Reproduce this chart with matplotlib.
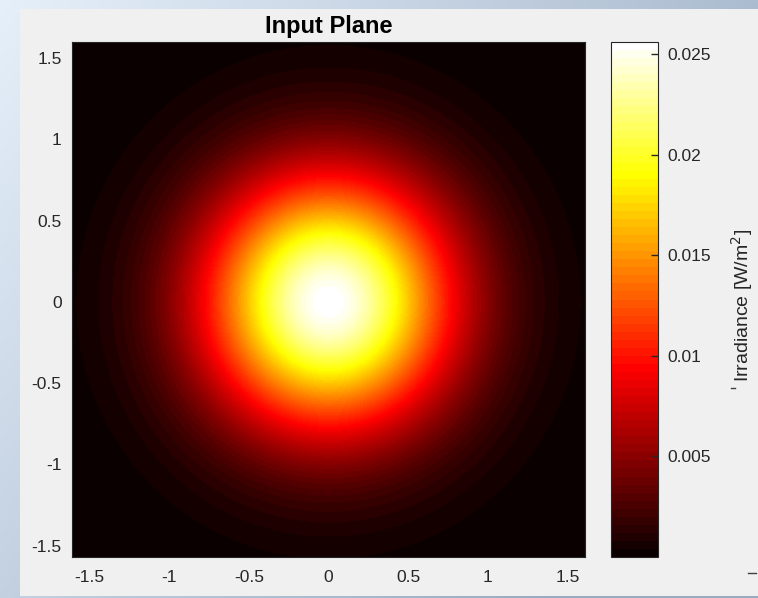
import numpy as np
import matplotlib
matplotlib.use("Agg")
import matplotlib.pyplot as plt
from matplotlib.patches import Rectangle
from matplotlib.lines import Line2D

# ---- data ----
title = "Input Plane"
cbar_label = "Irradiance [W/m$^2$]"
peak_irradiance = 0.0256      # W/m^2 at beam centre
beam_waist = 1.1              # 1/e^2 radius
x_limits = [-1.61, 1.61]
y_limits = [-1.57, 1.60]
x_ticks = [-1.5, -1, -0.5, 0, 0.5, 1, 1.5]
x_tick_labels = ["-1.5", "-1", "-0.5", "0", "0.5", "1", "1.5"]
y_ticks = [-1.5, -1, -0.5, 0, 0.5, 1, 1.5]
y_tick_labels = ["-1.5", "-1", "-0.5", "0", "0.5", "1", "1.5"]
c_ticks = [0.005, 0.01, 0.015, 0.02, 0.025]
c_tick_labels = ["0.005", "0.01", "0.015", "0.02", "0.025"]
c_limits = [0.0, 0.0256]
n_grid = 400

xs = np.linspace(x_limits[0], x_limits[1], n_grid)
ys = np.linspace(y_limits[0], y_limits[1], n_grid)
X, Y = np.meshgrid(xs, ys)
irradiance = peak_irradiance * np.exp(-2 * (X**2 + Y**2) / beam_waist**2)

plt.rcParams['font.family'] = ['Liberation Sans', 'DejaVu Sans']
W, H = 758, 598
fig = plt.figure(figsize=(W / 100, H / 100), dpi=100)

# background (screenshot surroundings)
bg = fig.add_axes([0, 0, 1, 1], zorder=-10)
bg.set_axis_off()
gx = np.linspace(0, 1, 200)
gy = np.linspace(0, 1, 200)
GX, GY = np.meshgrid(gx, gy)
c1 = np.array([0.90, 0.94, 0.98])
c2 = np.array([0.60, 0.67, 0.76])
t = np.clip(0.75 * GX + 0.45 * GY, 0, 1)[..., None]
bgimg = c1 * (1 - t) + c2 * t
bg.imshow(bgimg, extent=[0, 1, 0, 1], aspect='auto', origin='upper')
bg.set_xlim(0, 1)
bg.set_ylim(0, 1)
bg.add_patch(Rectangle((20 / W, 2 / H), 1, (H - 9 - 2) / H,
                       transform=bg.transAxes, facecolor='#f0f0f0',
                       edgecolor='none'))

ax = fig.add_axes([72 / W, (H - 557) / H, 513 / W, 515 / H])
cmap = plt.get_cmap('hot', 64)
im = ax.imshow(irradiance, extent=[x_limits[0], x_limits[1], y_limits[0], y_limits[1]],
               origin='lower', cmap=cmap, vmin=c_limits[0], vmax=c_limits[1],
               aspect='auto', interpolation='bilinear')
ax.set_xlim(x_limits)
ax.set_ylim(y_limits)
ax.set_xticks(x_ticks)
ax.set_xticklabels(x_tick_labels)
ax.set_yticks(y_ticks)
ax.set_yticklabels(y_tick_labels)
ax.tick_params(length=0, labelsize=12.5, colors='#262626')
ax.tick_params(axis='x', pad=9)
ax.tick_params(axis='y', pad=7.5)
for s in ax.spines.values():
    s.set_color('#262626')
    s.set_linewidth(0.8)

fig.text(329 / W, 1 - 27 / H, title, ha='center', va='center',
         fontsize=17, fontweight='bold', color='black')

cax = fig.add_axes([611 / W, (H - 557) / H, 47 / W, 515 / H])
cb = fig.colorbar(im, cax=cax)
cb.set_ticks(c_ticks)
cb.set_ticklabels(c_tick_labels)
cax.tick_params(direction='in', length=5, width=1, labelsize=12.5,
                colors='#262626', pad=7)
cb.outline.set_edgecolor('#262626')
cb.outline.set_linewidth(0.8)

fig.text(742 / W, 1 - 305 / H, cbar_label, rotation=90, ha='center',
         va='center', fontsize=14, color='#262626')

# small rendering marks present in the original screenshot
fig.add_artist(Line2D([731 / W, 735 / W], [1 - 388 / H, 1 - 388 / H],
                      transform=fig.transFigure, color='#404040', lw=1))
fig.add_artist(Line2D([748 / W, 756 / W], [1 - 573 / H, 1 - 573 / H],
                      transform=fig.transFigure, color='#404040', lw=1))

fig.savefig("out.png", dpi=100, facecolor=fig.get_facecolor())
